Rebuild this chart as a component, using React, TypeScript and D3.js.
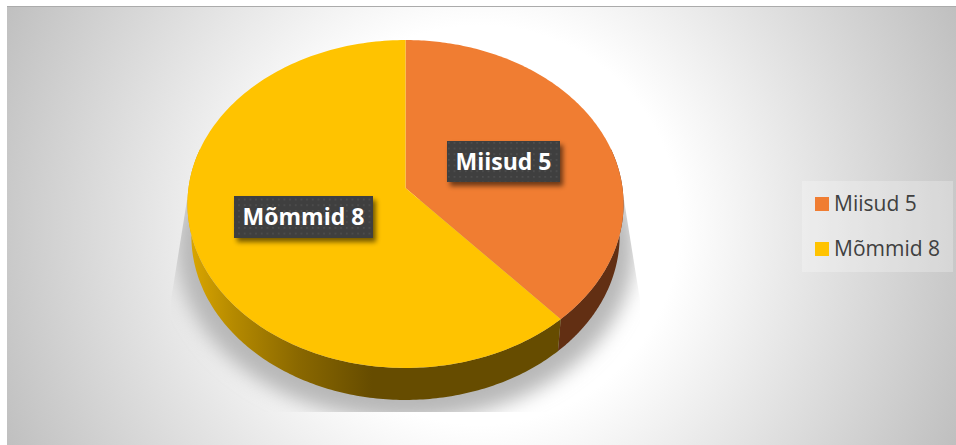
import React from "react";
import * as d3 from "d3";

const categories = ["Miisud 5", "Mõmmid 8"];
const values = [5, 8];
const topColors = ["#F07D32", "#FFC300"];

const W = 956, H = 445;
const cx = 405.5, apexY = 188, rimCy = 204;
const A = 217, B = 162.4, k = 0.0975, depth = 32, lowerScale = 0.982;
const project = (t: number): [number, number] => {
  const w = 1 + k * Math.cos(t);
  return [cx + (A * Math.sin(t)) / w, apexY - (B * Math.cos(t)) / w];
};

const slices = d3.pie<number>().sort(null)(values);
const line = d3.line<[number, number]>();

const arcPts = (a0: number, a1: number) =>
  d3.range(0, 181).map((i) => project(a0 + ((a1 - a0) * i) / 180));

const wedge = (a0: number, a1: number) =>
  line([[cx, apexY], ...arcPts(a0, a1)])! + "Z";

// visible wall = part of the rim on the front half of the ellipse, lower rim slightly smaller
const wall = (a0: number, a1: number) => {
  const lo = Math.max(a0, Math.PI / 2 - 0.25);
  const hi = Math.min(a1, (3 * Math.PI) / 2 + 0.25);
  const pts = arcPts(lo, hi);
  const lower = pts
    .map(([x, y]) => [cx + (x - cx) * lowerScale, y + depth] as [number, number])
    .reverse();
  return line([...pts, ...lower])! + "Z";
};

const labelBoxes = [
  { x: 447, y: 141, w: 113, h: 41 },
  { x: 234, y: 196, w: 139, h: 42 },
];

const shadowClip: [number, number][] = [
  [187, 200], [171, 300], [171, 412], [640, 412], [640, 300], [624, 200],
];

export default function App() {
  const outline = line(arcPts(0, 2 * Math.PI))! + "Z";
  return (
    <svg width={W} height={H} style={{ position: "absolute", left: 0, top: 0, display: "block" }}
      fontFamily="'Open Sans', 'Noto Sans', sans-serif">
      <defs>
        <radialGradient id="bg" gradientUnits="userSpaceOnUse" cx={480} cy={225} r={525}>
          <stop offset="0.38" stopColor="#ffffff" />
          <stop offset="1" stopColor="#bfbfbf" />
        </radialGradient>
        <linearGradient id="wallY" gradientUnits="userSpaceOnUse" x1={187} x2={372} y1={0} y2={0}>
          <stop offset="0" stopColor="#DDA800" />
          <stop offset="0.25" stopColor="#B58A00" />
          <stop offset="0.6" stopColor="#8A6800" />
          <stop offset="1" stopColor="#664C00" />
        </linearGradient>
        <filter id="blur" x="-20%" y="-20%" width="140%" height="140%">
          <feGaussianBlur stdDeviation="9" />
        </filter>
        <filter id="lblShadow" x="-20%" y="-30%" width="150%" height="170%">
          <feGaussianBlur stdDeviation="2.5" />
        </filter>
        <clipPath id="shClip">
          <polygon points={shadowClip.map((p) => p.join(",")).join(" ")} />
        </clipPath>
        <pattern id="dots" patternUnits="userSpaceOnUse" x={447} y={141} width={5.67} height={5.67}>
          <rect width={5.67} height={5.67} fill="#3F3F3F" />
          <rect x={1} y={1} width={1.6} height={1.6} fill="#505050" />
        </pattern>
      </defs>

      <rect x={7} y={6} width={W - 7} height={H - 6} fill="url(#bg)" />
      <rect x={7} y={6} width={W - 7} height={1} fill="#ababab" />

      <g clipPath="url(#shClip)">
        <path d={outline}
          transform={`translate(${cx} ${rimCy + 44}) scale(1.05 1.05) translate(${-cx} ${-rimCy})`}
          fill="#b8b8b8" filter="url(#blur)" />
      </g>

      <g>
        {slices.map((s, i) => (
          <path key={"w" + i} d={wall(s.startAngle, s.endAngle)}
            fill={i === 0 ? "#622F13" : "url(#wallY)"} />
        ))}
        {slices.map((s, i) => (
          <path key={"t" + i} d={wedge(s.startAngle, s.endAngle)} fill={topColors[i]} />
        ))}
      </g>

      {categories.map((c, i) => {
        const b = labelBoxes[i];
        return (
          <g key={c}>
            <rect x={b.x + 3} y={b.y + 4} width={b.w} height={b.h} fill="#000" opacity={0.55} filter="url(#lblShadow)" />
            <rect x={b.x} y={b.y} width={b.w} height={b.h} fill="url(#dots)" />
            <text x={b.x + b.w / 2} y={b.y + b.h / 2 + 8} textAnchor="middle" fill="#fff" fontWeight={700} fontSize={23}>{c}</text>
          </g>
        );
      })}

      <rect x={802} y={181} width={151} height={91} fill="#fff" opacity={0.25} />
      {categories.map((c, i) => (
        <g key={"l" + c}>
          <rect x={815} y={197 + i * 45} width={14} height={14} fill={topColors[i]} />
          <text x={834} y={211 + i * 45} fill="#404040" fontSize={21}>{c}</text>
        </g>
      ))}
    </svg>
  );
}
